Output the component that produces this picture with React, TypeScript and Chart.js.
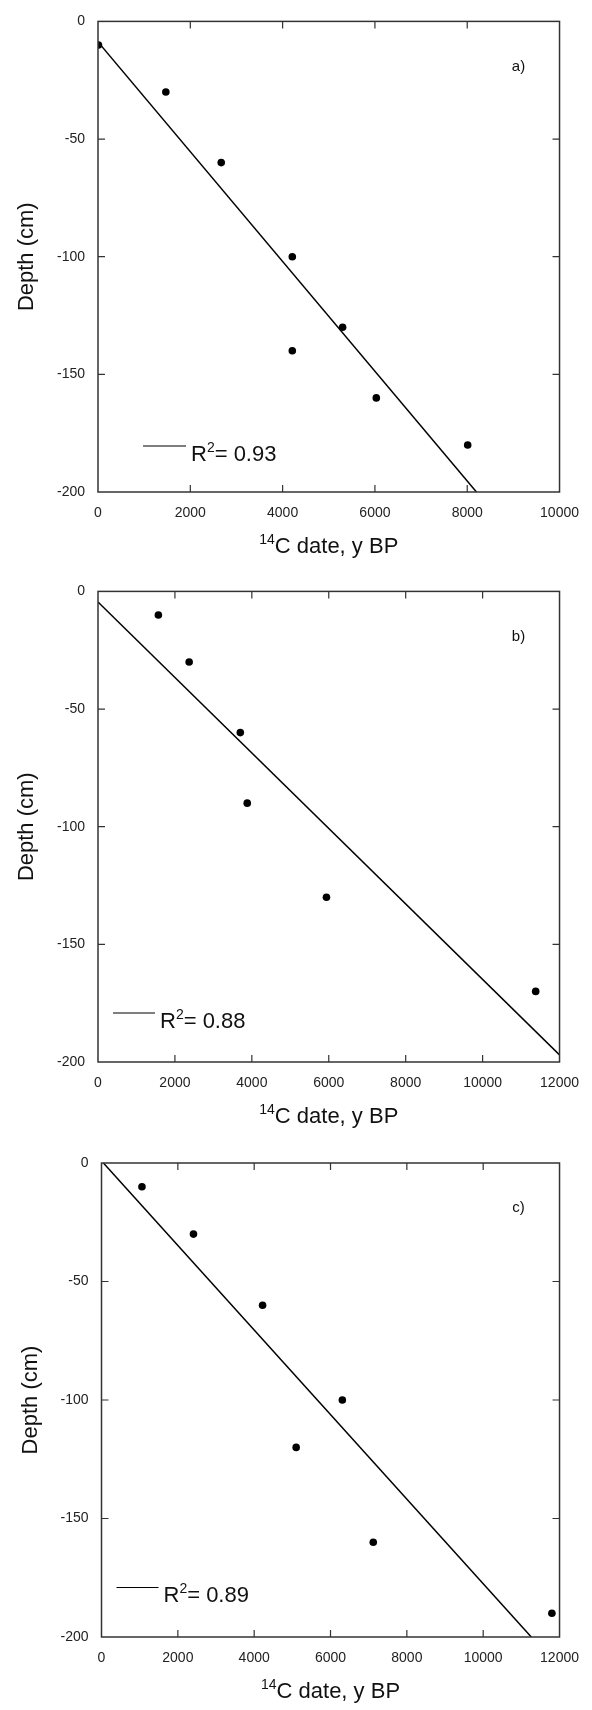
import React, { useEffect, useRef } from "react";
import { Chart, registerables } from "chart.js";

Chart.register(...registerables);

const FONT = "'Liberation Sans', Arial, Helvetica, sans-serif";

// ---------- data ----------
// Panel a
const ageA = [10, 1470, 2670, 4210, 4210, 5300, 6030, 8010];
const depthA = [-10, -30, -60, -100, -140, -130, -160, -180];
const fitAgeA = [0, 8200];
const fitDepthA = [-8.7, -200];
const xTicksA = [0, 2000, 4000, 6000, 8000, 10000];
const r2A = "0.93";

// Panel b
const ageB = [1570, 2370, 3700, 3880, 5940, 11380];
const depthB = [-10, -30, -60, -90, -130, -170];
const fitAgeB = [0, 12000];
const fitDepthB = [-4.5, -197];
const xTicksB = [0, 2000, 4000, 6000, 8000, 10000, 12000];
const r2B = "0.88";

// Panel c
const ageC = [1060, 2410, 4220, 5100, 6310, 7120, 11800];
const depthC = [-10, -30, -60, -120, -100, -160, -190];
const fitAgeC = [50, 11260];
const fitDepthC = [0, -200];
const xTicksC = [0, 2000, 4000, 6000, 8000, 10000, 12000];
const r2C = "0.89";

const yTicks = [0, -50, -100, -150, -200];
const panelLabels = ["a)", "b)", "c)"];
const xTitleSup = "14";
const xTitleMain = "C date, y BP";
const yTitle = "Depth (cm)";
const r2Prefix = "R";
const r2Sup = "2";

type Panel = {
  age: number[];
  depth: number[];
  fitAge: number[];
  fitDepth: number[];
  xTicks: number[];
  r2: string;
  label: string;
  // layout
  top: number;
  height: number;
  padTop: number;
  padRight: number;
  yWidth: number;
  xHeight: number;
  legDx: number;
  legDy: number;
  legLen: number;
};

const panels: Panel[] = [
  {
    age: ageA, depth: depthA, fitAge: fitAgeA, fitDepth: fitDepthA, xTicks: xTicksA, r2: r2A, label: panelLabels[0],
    top: 0, height: 570, padTop: 17, padRight: 23, yWidth: 98, xHeight: 78, legDx: 45, legDy: 46, legLen: 43,
  },
  {
    age: ageB, depth: depthB, fitAge: fitAgeB, fitDepth: fitDepthB, xTicks: xTicksB, r2: r2B, label: panelLabels[1],
    top: 570, height: 570, padTop: 18, padRight: 23, yWidth: 98, xHeight: 78, legDx: 15, legDy: 49, legLen: 42,
  },
  {
    age: ageC, depth: depthC, fitAge: fitAgeC, fitDepth: fitDepthC, xTicks: xTicksC, r2: r2C, label: panelLabels[2],
    top: 1140, height: 570, padTop: 23, padRight: 21.5, yWidth: 101.5, xHeight: 73, legDx: 15, legDy: 49.5, legLen: 42,
  },
];

function makeDecorPlugin(p: Panel) {
  return {
    id: "decor",
    afterDraw(chart: any) {
      const { ctx, chartArea: ca, scales } = chart;
      const xs = scales.x;
      const ys = scales.y;
      ctx.save();
      // frame
      ctx.strokeStyle = "#333";
      ctx.lineWidth = 1.5;
      ctx.strokeRect(ca.left, ca.top, ca.right - ca.left, ca.bottom - ca.top);
      // inward ticks
      const TL = 7;
      ctx.lineWidth = 1.2;
      ctx.beginPath();
      xs.ticks.forEach((t: any) => {
        if (t.value === xs.min || t.value === xs.max) return;
        const px = xs.getPixelForValue(t.value);
        ctx.moveTo(px, ca.bottom);
        ctx.lineTo(px, ca.bottom - TL);
        ctx.moveTo(px, ca.top);
        ctx.lineTo(px, ca.top + TL);
      });
      ys.ticks.forEach((t: any) => {
        if (t.value === ys.min || t.value === ys.max) return;
        const py = ys.getPixelForValue(t.value);
        ctx.moveTo(ca.left, py);
        ctx.lineTo(ca.left + TL, py);
        ctx.moveTo(ca.right, py);
        ctx.lineTo(ca.right - TL, py);
      });
      ctx.stroke();

      ctx.fillStyle = "#111";
      // x title with superscript
      const bigFont = `22px ${FONT}`;
      const supFont = `14px ${FONT}`;
      ctx.font = supFont;
      const wSup = ctx.measureText(xTitleSup).width;
      ctx.font = bigFont;
      const wMain = ctx.measureText(xTitleMain).width;
      const cx = (ca.left + ca.right) / 2;
      const startX = cx - (wSup + wMain) / 2;
      const baseY = ca.bottom + 61;
      ctx.textAlign = "left";
      ctx.textBaseline = "alphabetic";
      ctx.font = supFont;
      ctx.fillText(xTitleSup, startX, baseY - 9);
      ctx.font = bigFont;
      ctx.fillText(xTitleMain, startX + wSup, baseY);

      // y title
      ctx.save();
      ctx.translate(ca.left - 71, (ca.top + ca.bottom) / 2);
      ctx.rotate(-Math.PI / 2);
      ctx.textAlign = "center";
      ctx.textBaseline = "middle";
      ctx.font = bigFont;
      ctx.fillText(yTitle, 0, 0);
      ctx.restore();

      // legend
      const ly = ca.bottom - p.legDy;
      const lx0 = ca.left + p.legDx;
      const lx1 = lx0 + p.legLen;
      ctx.strokeStyle = "#000";
      ctx.lineWidth = 1.2;
      ctx.beginPath();
      ctx.moveTo(lx0, ly);
      ctx.lineTo(lx1, ly);
      ctx.stroke();
      let tx = lx1 + 5;
      const tb = ly + 14.5;
      ctx.textAlign = "left";
      ctx.textBaseline = "alphabetic";
      ctx.font = bigFont;
      ctx.fillText(r2Prefix, tx, tb);
      tx += ctx.measureText(r2Prefix).width;
      ctx.font = supFont;
      ctx.fillText(r2Sup, tx, tb - 9);
      tx += ctx.measureText(r2Sup).width;
      ctx.font = bigFont;
      ctx.fillText("= " + p.r2, tx, tb);

      // panel label
      ctx.font = `15px ${FONT}`;
      ctx.textAlign = "center";
      ctx.textBaseline = "middle";
      ctx.fillText(p.label, ca.right - 41, ca.top + 45);
      ctx.restore();
    },
  };
}

function PanelChart({ p }: { p: Panel }) {
  const ref = useRef<HTMLCanvasElement | null>(null);
  useEffect(() => {
    if (!ref.current) return;
    const xMax = p.xTicks[p.xTicks.length - 1];
    const chart = new Chart(ref.current, {
      type: "scatter",
      data: {
        datasets: [
          {
            label: "points",
            data: p.age.map((a, i) => ({ x: a, y: p.depth[i] })),
            backgroundColor: "#000",
            borderWidth: 0,
            pointRadius: 3.8,
            showLine: false,
          },
          {
            label: "fit",
            data: p.fitAge.map((a, i) => ({ x: a, y: p.fitDepth[i] })),
            borderColor: "#000",
            borderWidth: 1.5,
            pointRadius: 0,
            showLine: true,
            fill: false,
          },
        ],
      },
      options: {
        animation: false,
        responsive: false,
        events: [],
        layout: { padding: { top: p.padTop, right: p.padRight, left: 0, bottom: 0 } },
        plugins: { legend: { display: false }, tooltip: { enabled: false }, title: { display: false } },
        scales: {
          x: {
            type: "linear",
            min: 0,
            max: xMax,
            grid: { display: false, drawTicks: false, tickLength: 0 },
            border: { display: false },
            afterBuildTicks: (s: any) => {
              s.ticks = p.xTicks.map((v) => ({ value: v }));
            },
            afterFit: (s: any) => {
              s.height = p.xHeight;
            },
            ticks: {
              color: "#222",
              padding: 13,
              maxRotation: 0,
              autoSkip: false,
              font: { family: FONT, size: 14 },
              callback: (v: any) => String(v),
            },
          },
          y: {
            type: "linear",
            min: -200,
            max: 0,
            grid: { display: false, drawTicks: false, tickLength: 0 },
            border: { display: false },
            afterBuildTicks: (s: any) => {
              s.ticks = yTicks.map((v) => ({ value: v }));
            },
            afterFit: (s: any) => {
              s.width = p.yWidth;
            },
            ticks: {
              color: "#222",
              padding: 13,
              autoSkip: false,
              font: { family: FONT, size: 14 },
              callback: (v: any) => String(v),
            },
          },
        },
      } as any,
      plugins: [makeDecorPlugin(p)],
    });
    return () => chart.destroy();
  }, [p]);
  return (
    <canvas
      ref={ref}
      width={592}
      height={p.height}
      style={{ position: "absolute", left: 0, top: p.top, width: 592, height: p.height, display: "block" }}
    />
  );
}

export default function App() {
  return (
    <div style={{ position: "absolute", left: 0, top: 0, width: 592, height: 1710, background: "#fff" }}>
      {panels.map((p, i) => (
        <PanelChart key={i} p={p} />
      ))}
    </div>
  );
}
